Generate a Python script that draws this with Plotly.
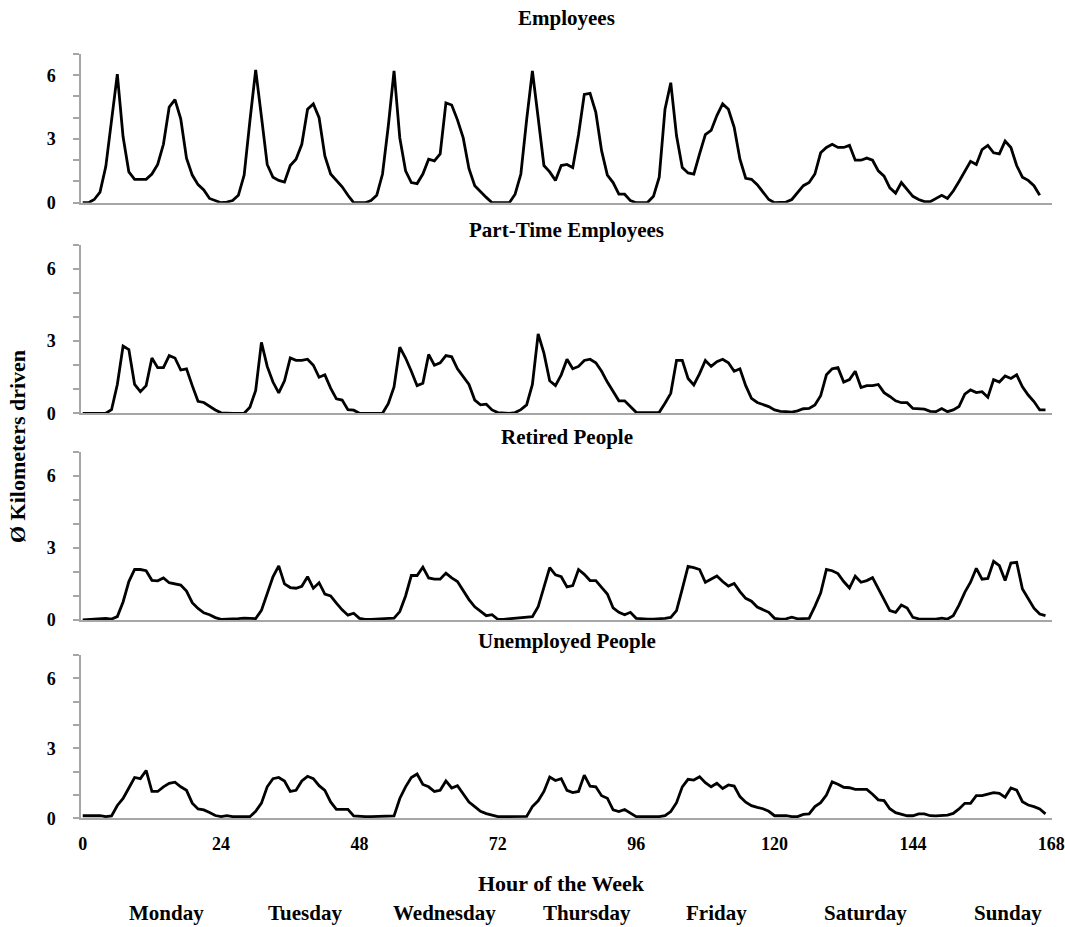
import plotly.graph_objects as go

# ---------------- data (average km driven per hour of the week) ----------------
employees = [
    0, 0, 0.15, 0.5, 1.7, 3.9, 6.05, 3.1, 1.45, 1.1, 1.1, 1.1, 1.35, 1.8, 2.75, 4.5, 4.85, 3.95, 2.1, 1.3, 0.85, 0.6, 0.2, 0.1,
    0, 0.03, 0.1, 0.35, 1.3, 3.85, 6.25, 4.05, 1.8, 1.2, 1.05, 0.97, 1.75, 2.05, 2.75, 4.4, 4.65, 4.0, 2.2, 1.35, 1.05, 0.75, 0.35, 0.0,
    0, 0, 0.1, 0.35, 1.35, 3.6, 6.2, 3.05, 1.5, 0.95, 0.9, 1.35, 2.05, 1.97, 2.3, 4.7, 4.6, 3.9, 3.05, 1.6, 0.8, 0.5, 0.25, 0.0,
    0, 0, 0, 0.4, 1.35, 3.9, 6.2, 4.0, 1.75, 1.45, 1.05, 1.75, 1.8, 1.65, 3.2, 5.1, 5.15, 4.25, 2.45, 1.3, 0.95, 0.4, 0.4, 0.1,
    0, 0, 0.02, 0.3, 1.2, 4.4, 5.65, 3.15, 1.65, 1.4, 1.35, 2.3, 3.2, 3.4, 4.1, 4.65, 4.4, 3.55, 2.05, 1.15, 1.1, 0.85, 0.5, 0.15,
    0, 0, 0.03, 0.15, 0.45, 0.8, 0.95, 1.35, 2.35, 2.6, 2.75, 2.6, 2.6, 2.7, 2.0, 2.0, 2.1, 2.0, 1.5, 1.25, 0.7, 0.45, 0.95, 0.6,
    0.3, 0.15, 0.05, 0.05, 0.2, 0.35, 0.2, 0.55, 1.0, 1.45, 1.95, 1.8, 2.5, 2.7, 2.35, 2.3, 2.9, 2.6, 1.75, 1.2, 1.05, 0.8, 0.35,
]
part_time = [
    0, 0, 0, 0, 0, 0.15, 1.2, 2.8, 2.65, 1.2, 0.9, 1.15, 2.3, 1.9, 1.9, 2.4, 2.3, 1.8, 1.85, 1.15, 0.5, 0.45, 0.28, 0.14,
    0.02, 0, 0, 0, 0, 0.25, 0.95, 2.95, 1.95, 1.3, 0.85, 1.35, 2.3, 2.2, 2.2, 2.25, 2.0, 1.5, 1.6, 1.05, 0.6, 0.55, 0.15, 0.13,
    0, 0, 0, 0, 0, 0.4, 1.1, 2.75, 2.3, 1.75, 1.15, 1.25, 2.45, 2.0, 2.1, 2.4, 2.35, 1.85, 1.5, 1.2, 0.55, 0.35, 0.38, 0.14,
    0.03, 0, 0, 0.03, 0.15, 0.35, 1.2, 3.3, 2.5, 1.35, 1.15, 1.6, 2.25, 1.85, 1.95, 2.2, 2.25, 2.1, 1.75, 1.3, 0.9, 0.52, 0.52, 0.28,
    0.04, 0.03, 0.03, 0.03, 0.04, 0.42, 0.83, 2.2, 2.2, 1.45, 1.18, 1.65, 2.2, 1.95, 2.15, 2.25, 2.1, 1.75, 1.85, 1.15, 0.62, 0.45, 0.37, 0.28,
    0.14, 0.08, 0.07, 0.05, 0.1, 0.19, 0.2, 0.35, 0.73, 1.6, 1.85, 1.9, 1.3, 1.4, 1.75, 1.07, 1.15, 1.15, 1.2, 0.86, 0.7, 0.52, 0.44, 0.44,
    0.2, 0.17, 0.17, 0.08, 0.07, 0.2, 0.07, 0.14, 0.28, 0.8, 0.97, 0.86, 0.9, 0.67, 1.4, 1.3, 1.55, 1.45, 1.6, 1.1, 0.76, 0.49, 0.14, 0.14,
]
retired = [
    0, 0.02, 0.05, 0.08, 0.07, 0.04, 0.14, 0.75, 1.6, 2.1, 2.1, 2.05, 1.65, 1.63, 1.75, 1.55, 1.5, 1.45, 1.2, 0.72, 0.48, 0.3, 0.22, 0.1,
    0.03, 0.03, 0.04, 0.06, 0.08, 0.08, 0.06, 0.4, 1.1, 1.8, 2.25, 1.5, 1.35, 1.32, 1.4, 1.8, 1.32, 1.55, 1.08, 1.0, 0.7, 0.42, 0.2, 0.28,
    0.07, 0.03, 0.03, 0.04, 0.06, 0.08, 0.08, 0.35, 1.0, 1.85, 1.85, 2.2, 1.75, 1.7, 1.7, 1.95, 1.75, 1.6, 1.2, 0.85, 0.55, 0.35, 0.18, 0.22,
    0.03, 0.03, 0.05, 0.06, 0.07, 0.1, 0.14, 0.55, 1.4, 2.18, 1.88, 1.8, 1.38, 1.43, 2.1, 1.9, 1.64, 1.64, 1.36, 1.08, 0.5, 0.32, 0.22, 0.32,
    0.07, 0.04, 0.04, 0.04, 0.05, 0.07, 0.11, 0.39, 1.29, 2.23, 2.18, 2.1, 1.57, 1.7, 1.83, 1.6, 1.41, 1.52, 1.18, 0.9, 0.78, 0.54, 0.44, 0.32,
    0.07, 0.04, 0.05, 0.12, 0.05, 0.07, 0.07, 0.57, 1.12, 2.1, 2.05, 1.93, 1.6, 1.33, 1.82, 1.57, 1.64, 1.76, 1.32, 0.83, 0.39, 0.32, 0.62, 0.5,
    0.11, 0.05, 0.04, 0.04, 0.04, 0.08, 0.04, 0.18, 0.62, 1.15, 1.57, 2.15, 1.7, 1.73, 2.44, 2.26, 1.64, 2.37, 2.4, 1.29, 0.9, 0.49, 0.25, 0.18,
]
unemployed = [
    0.11, 0.11, 0.11, 0.11, 0.07, 0.1, 0.55, 0.85, 1.3, 1.75, 1.7, 2.05, 1.15, 1.15, 1.35, 1.5, 1.55, 1.35, 1.2, 0.65, 0.4, 0.36, 0.25, 0.12,
    0.07, 0.11, 0.07, 0.07, 0.07, 0.07, 0.3, 0.65, 1.35, 1.7, 1.75, 1.6, 1.15, 1.2, 1.6, 1.8, 1.7, 1.4, 1.2, 0.7, 0.38, 0.38, 0.38, 0.1,
    0.07, 0.07, 0.07, 0.07, 0.07, 0.07, 0.1, 0.85, 1.35, 1.75, 1.9, 1.45, 1.35, 1.15, 1.2, 1.6, 1.3, 1.4, 1.05, 0.7, 0.5, 0.3, 0.2, 0.12,
    0.07, 0.07, 0.07, 0.07, 0.07, 0.08, 0.5, 0.75, 1.15, 1.77, 1.62, 1.7, 1.2, 1.1, 1.15, 1.85, 1.38, 1.35, 0.97, 0.86, 0.36, 0.29, 0.38, 0.24,
    0.07, 0.07, 0.07, 0.07, 0.07, 0.11, 0.29, 0.67, 1.35, 1.67, 1.64, 1.78, 1.53, 1.35, 1.5, 1.28, 1.43, 1.38, 0.93, 0.69, 0.54, 0.47, 0.41, 0.3,
    0.11, 0.11, 0.11, 0.07, 0.07, 0.17, 0.19, 0.5, 0.67, 1.0, 1.56, 1.46, 1.33, 1.31, 1.24, 1.24, 1.24, 1.03, 0.79, 0.76, 0.41, 0.24, 0.17, 0.11,
    0.11, 0.19, 0.19, 0.11, 0.1, 0.11, 0.14, 0.21, 0.4, 0.64, 0.64, 0.97, 0.97, 1.04, 1.1, 1.07, 0.9, 1.3, 1.21, 0.71, 0.57, 0.5, 0.4, 0.19,
]

panel_titles = ["Employees", "Part-Time Employees", "Retired People", "Unemployed People"]
series = [employees, part_time, retired, unemployed]
x_ticks = [0, 24, 48, 72, 96, 120, 144, 168]
y_ticks = [0, 3, 6]
day_names = ["Monday", "Tuesday", "Wednesday", "Thursday", "Friday", "Saturday", "Sunday"]
day_label_hours = [14.6, 38.6, 62.8, 87.5, 110.0, 135.7, 160.5]

# ---------------- layout helpers ----------------
W, H = 1065, 927
FONT = "Liberation Serif"
GRAY = "#a6a6a6"
ML, MR = 81, 13
# panel pixel extents (top, bottom)
panels_px = [(54, 202.7), (245, 413.3), (451.7, 620), (655, 818.3)]
domains = [[1 - b / H, 1 - t / H] for t, b in panels_px]
title_px = [18, 230, 437, 641]

fig = go.Figure()
layout = dict(
    width=W, height=H,
    paper_bgcolor="white", plot_bgcolor="white",
    margin=dict(l=ML, r=MR, t=0, b=0, autoexpand=False),
    showlegend=False,
)

annotations = []
for i, (vals, title) in enumerate(zip(series, panel_titles)):
    n = i + 1
    xa = "x" if n == 1 else f"x{n}"
    ya = "y" if n == 1 else f"y{n}"
    fig.add_trace(go.Scatter(
        x=list(range(len(vals))), y=vals, mode="lines",
        line=dict(color="black", width=2.8),
        xaxis=xa, yaxis=ya, hoverinfo="skip",
    ))
    xkey = "xaxis" if n == 1 else f"xaxis{n}"
    ykey = "yaxis" if n == 1 else f"yaxis{n}"
    bottom = (n == 4)
    layout[xkey] = dict(
        domain=[0, 1], anchor=ya, range=[-0.3, 168.13],
        showline=True, linecolor=GRAY, linewidth=1.5,
        showgrid=False, zeroline=False,
        ticks="", tickmode="array", tickvals=x_ticks,
        ticktext=[str(v) for v in x_ticks],
        showticklabels=bottom,
        tickfont=dict(family=FONT, size=18, color="black", weight="bold"),
        ticklabelstandoff=8,
    )
    if n > 1:
        layout[xkey]["matches"] = "x"
    layout[ykey] = dict(
        domain=domains[i], anchor=xa, range=[0, 7],
        showline=True, linecolor=GRAY, linewidth=1.5,
        showgrid=False, zeroline=False,
        ticks="outside", ticklen=6, tickcolor=GRAY, tickwidth=1.5,
        tickmode="array", tickvals=y_ticks,
        tickfont=dict(family=FONT, size=18, color="black", weight="bold"),
        ticklabelstandoff=14,
        minor=dict(ticks="outside", ticklen=6, tickcolor=GRAY, tickwidth=1.5,
                   tickmode="linear", tick0=0, dtick=1),
    )
    annotations.append(dict(
        text=f"<b>{title}</b>", xref="paper", yref="paper",
        x=0.5, y=1 - title_px[i] / H, showarrow=False,
        font=dict(family=FONT, size=21, color="black"),
        xanchor="center", yanchor="middle",
    ))

annotations.append(dict(
    text="<b>Ø Kilometers driven</b>", xref="paper", yref="paper",
    x=(18 - ML) / (W - ML - MR), y=1 - 447 / H, textangle=-90, showarrow=False,
    font=dict(family=FONT, size=22, color="black"),
    xanchor="center", yanchor="middle",
))
annotations.append(dict(
    text="<b>Hour of the Week</b>", xref="paper", yref="paper",
    x=(561 - ML) / (W - ML - MR), y=1 - 883 / H, showarrow=False,
    font=dict(family=FONT, size=22, color="black"),
    xanchor="center", yanchor="middle",
))
for name, hx in zip(day_names, day_label_hours):
    annotations.append(dict(
        text=f"<b>{name}</b>", xref="x4", yref="paper",
        x=hx, y=1 - 913 / H, showarrow=False,
        font=dict(family=FONT, size=21, color="black"),
        xanchor="center", yanchor="middle",
    ))

layout["annotations"] = annotations
fig.update_layout(**layout)
fig.write_html("out.html", config={"displayModeBar": False},
               post_script="document.body.style.margin='0px';")
